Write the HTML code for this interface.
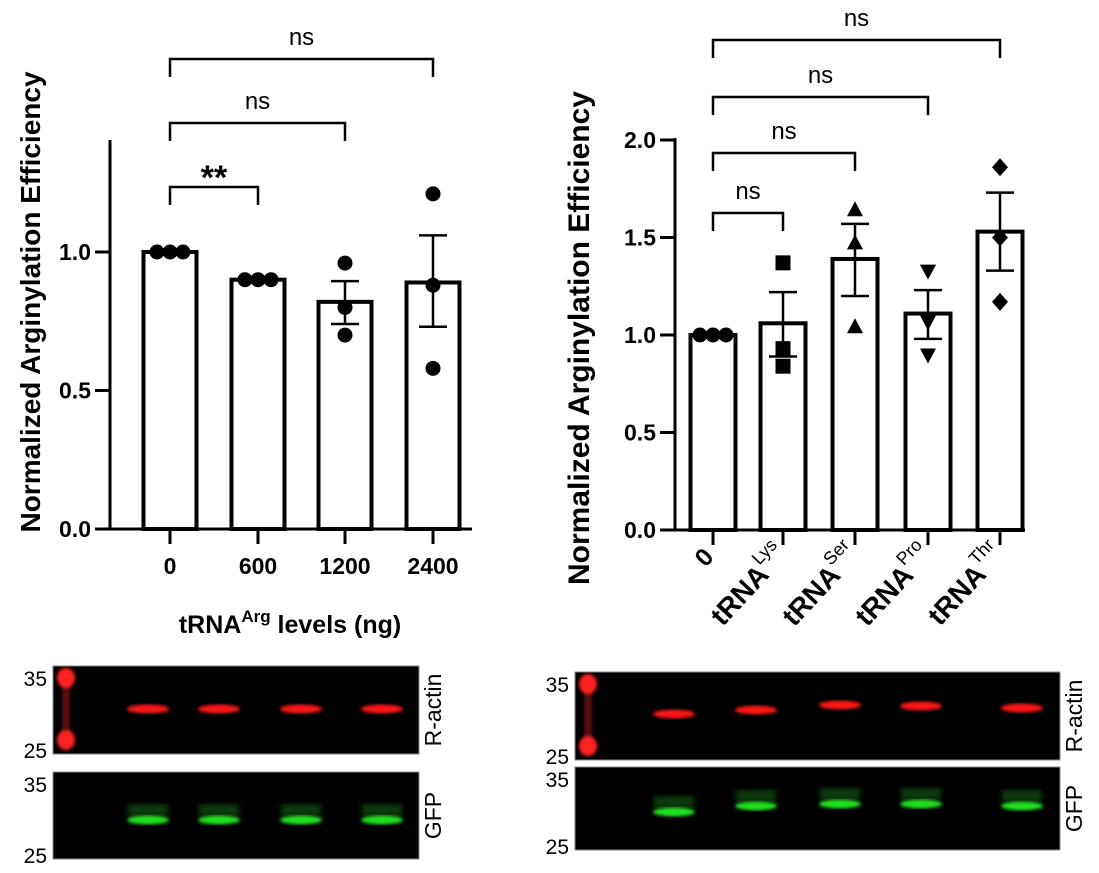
<!DOCTYPE html>
<html><head><meta charset="utf-8"><style>
body{margin:0;background:#fff}
svg{display:block;font-family:"Liberation Sans",Arial,sans-serif}
</style></head><body>
<svg id="fig" width="1099" height="873" viewBox="0 0 1099 873" xmlns="http://www.w3.org/2000/svg">
<defs>
<filter id="blur1"><feGaussianBlur stdDeviation="1.6"/></filter>
<filter id="blur2"><feGaussianBlur stdDeviation="3"/></filter>
</defs>
<g id="left"></g>
<g id="right"></g>
<g id="blots"></g>
</svg>
<script>
// Left chart data
const leftCats = ["0","600","1200","2400"];
const leftMeans = [1.0, 0.9, 0.82, 0.89];
const leftSemLo = [1.0, 0.895, 0.74, 0.73];
const leftSemHi = [1.0, 0.905, 0.895, 1.06];
const leftPts = [[1.0,1.0,1.0],[0.9,0.9,0.9],[0.96,0.80,0.70],[1.21,0.88,0.58]];
const leftTicks = [0,0.5,1.0];
// Right chart data
const rightCats = ["0","Lys","Ser","Pro","Thr"];
const rightMeans = [1.0, 1.06, 1.39, 1.11, 1.53];
const rightSemLo = [1.0, 0.89, 1.2, 0.98, 1.33];
const rightSemHi = [1.0, 1.22, 1.57, 1.23, 1.73];
const rightPts = [[1.0,1.0,1.0],[1.37,0.93,0.84],[1.64,1.47,1.04],[1.33,1.07,0.90],[1.86,1.50,1.17]];
const rightTicks = [0,0.5,1.0,1.5,2.0];

const NS="http://www.w3.org/2000/svg";
function mk(parent,tag,attrs,text){const e=document.createElementNS(NS,tag);for(const k in attrs)e.setAttribute(k,attrs[k]);if(text!==undefined)e.textContent=text;parent.appendChild(e);return e;}

function drawChart(g,cfg){
  const y=v=>cfg.y0-v*cfg.unit;
  const x=i=>cfg.cx[i];
  const ya=mk(g,'line',{x1:cfg.ax,y1:cfg.ytop,x2:cfg.ax,y2:cfg.y0+1.5,stroke:'#000','stroke-width':3});
  
  
  const xa=mk(g,'line',{x1:cfg.ax-1.5,y1:cfg.y0,x2:cfg.axEnd,y2:cfg.y0,stroke:'#000','stroke-width':3});
  
  
  cfg.ticks.forEach(t=>{
    const tl=mk(g,'line',{x1:cfg.ax-15,y1:y(t),x2:cfg.ax,y2:y(t),stroke:'#000','stroke-width':3});
    
    
    const tt=mk(g,'text',{x:cfg.ax-19,y:y(t)+8,'text-anchor':'end','font-size':23,'font-weight':'bold'},t.toFixed(1));
    
    
  });
  const yt=mk(g,'text',{x:0,y:0,transform:`translate(${cfg.ytx},${cfg.ytc}) rotate(-90)`,'text-anchor':'middle','font-size':cfg.yfs,'font-weight':'bold'},'Normalized Arginylation Efficiency');
  
  
  cfg.means.forEach((m,i)=>{
    const b=mk(g,'rect',{x:x(i)-cfg.bw/2,y:y(m),width:cfg.bw,height:cfg.y0-y(m),fill:'#fff',stroke:'#000','stroke-width':4});
    
    
    const xt=mk(g,'line',{x1:x(i),y1:cfg.y0,x2:x(i),y2:cfg.y0+15,stroke:'#000','stroke-width':3});
    
    
    const eg=mk(g,'g',{stroke:'#000','stroke-width':2.5});
    
    
    mk(eg,'line',{x1:x(i),y1:y(cfg.hi[i]),x2:x(i),y2:y(cfg.lo[i])});
    mk(eg,'line',{x1:x(i)-14,y1:y(cfg.hi[i]),x2:x(i)+14,y2:y(cfg.hi[i])});
    mk(eg,'line',{x1:x(i)-14,y1:y(cfg.lo[i]),x2:x(i)+14,y2:y(cfg.lo[i])});
    const pts=cfg.pts[i];
    pts.forEach((p,j)=>{
      const px = pts.every(q=>q===pts[0]) ? x(i)+(j-1)*13 : x(i);
      const py=y(p); const sh=cfg.shapes[i]; let e;
      if(sh==='c') e=mk(g,'circle',{cx:px,cy:py,r:7.5,fill:'#000'});
      else if(sh==='s') e=mk(g,'rect',{x:px-7.5,y:py-7.5,width:15,height:15,fill:'#000'});
      else if(sh==='t') e=mk(g,'polygon',{points:`${px},${py-9} ${px+8},${py+6} ${px-8},${py+6}`,fill:'#000'});
      else if(sh==='v') e=mk(g,'polygon',{points:`${px},${py+9} ${px+8},${py-6} ${px-8},${py-6}`,fill:'#000'});
      else e=mk(g,'polygon',{points:`${px},${py-9} ${px+8},${py} ${px},${py+9} ${px-8},${py}`,fill:'#000'});
      
      
    });
  });
  cfg.brackets.forEach(br=>{
    const bg=mk(g,'g',{});
    
    
    mk(bg,'polyline',{points:`${x(br[0])},${br[2]+18} ${x(br[0])},${br[2]} ${x(br[1])},${br[2]} ${x(br[1])},${br[2]+18}`,fill:'none',stroke:'#000','stroke-width':2.5});
    const t=mk(bg,'text',{x:(x(br[0])+x(br[1]))/2,y:br[2]-14,'text-anchor':'middle','font-size':br[3]==='**'?34:24,'font-weight':br[3]==='**'?'bold':'normal'},br[3]);
    if(br[3]==='**') t.setAttribute('y',br[2]+2);
  });
}

const L=document.getElementById('left');
drawChart(L,{y0:529,unit:277,ax:110,axEnd:472,ytop:140,ytx:40,ytc:302,yfs:28,bw:53,cx:[170,258,345,433],
  means:leftMeans,lo:leftSemLo,hi:leftSemHi,pts:leftPts,ticks:leftTicks,shapes:['c','c','c','c'],
  brackets:[[0,1,187,'**'],[0,2,123,'ns'],[0,3,59,'ns']]});
leftCats.forEach((c,i)=>{
  const t=mk(L,'text',{x:[170,258,345,433][i],y:574,'text-anchor':'middle','font-size':23,'font-weight':'bold'},c);
  
  
});
const xt=mk(L,'text',{x:290,y:633,'text-anchor':'middle','font-size':25,'font-weight':'bold'});


xt.innerHTML='tRNA<tspan dy="-11" font-size="17">Arg</tspan><tspan dy="11"> levels (ng)</tspan>';

const R=document.getElementById('right');
const rcx=[713,783,855,928,1000];
drawChart(R,{y0:530,unit:195,ax:675,axEnd:1025,ytop:138,ytx:589,ytc:338,yfs:30,bw:45,cx:rcx,
  means:rightMeans,lo:rightSemLo,hi:rightSemHi,pts:rightPts,ticks:rightTicks,shapes:['c','s','t','v','d'],
  brackets:[[0,1,213,'ns'],[0,2,153,'ns'],[0,3,97,'ns'],[0,4,40,'ns']]});
rightCats.forEach((c,i)=>{
  const t=mk(R,'text',{x:0,y:0,transform:`translate(${rcx[i]+(i===0?2:6)},${i===0?558:556}) rotate(-47)`,'text-anchor':'end','font-size':i===0?25:28,'font-weight':'bold'});
  
  
  if(i===0) t.textContent='0';
  else t.innerHTML='tRNA<tspan dy="-15" font-size="18" font-weight="normal">'+c+'</tspan>';
});

// Blots
const B=document.getElementById('blots');
function blot(x0,y0,w,h,color,lanes,ladder,name,label,bandY,tilt){
  const g=mk(B,'g',{});
  
  
  mk(g,'rect',{x:x0,y:y0,width:w,height:h,fill:'#000',stroke:'#888','stroke-width':1});
  if(ladder){
    mk(g,'rect',{x:x0+9,y:y0+12,width:8,height:h-26,fill:'#5a0a0a',filter:'url(#blur1)'});
    mk(g,'ellipse',{cx:x0+13,cy:y0+12,rx:9,ry:10,fill:'#ff2020',filter:'url(#blur1)'});
    mk(g,'ellipse',{cx:x0+13,cy:y0+h-14,rx:9,ry:10,fill:'#ff2020',filter:'url(#blur1)'});
  }
  lanes.forEach((lx,i)=>{
    const by=bandY+(tilt?tilt[i]:0);
    if(color==='#20e020') mk(g,'rect',{x:lx-20,y:by-16,width:40,height:12,fill:'#0b3a0b',filter:'url(#blur2)'});
    mk(g,'ellipse',{cx:lx,cy:by,rx:21,ry:4.5,fill:color,filter:'url(#blur1)'});
  });
  mk(g,'text',{x:x0-6,y:y0+20,'text-anchor':'end','font-size':21},'35');
  mk(g,'text',{x:x0-6,y:y0+h+4,'text-anchor':'end','font-size':21},'25');
  const lt=mk(g,'text',{x:0,y:0,transform:`translate(${x0+w+22},${y0+h/2}) rotate(-90)`,'text-anchor':'middle','font-size':23},label);
  
  
}
blot(53,666,366,88,'#ff1818',[148,219,301,382],true,'left-actin-blot','R-actin',709);
blot(53,772,366,87,'#20e020',[148,219,301,382],false,'left-gfp-blot','GFP',820);
blot(575,672,485,88,'#ff1818',[674,756,840,921,1022],true,'right-actin-blot','R-actin',710,[4,0,-5,-4,-2]);
blot(575,767,485,83,'#20e020',[674,756,840,921,1022],false,'right-gfp-blot','GFP',806,[6,0,-2,-2,0]);
</script>
</body></html>
